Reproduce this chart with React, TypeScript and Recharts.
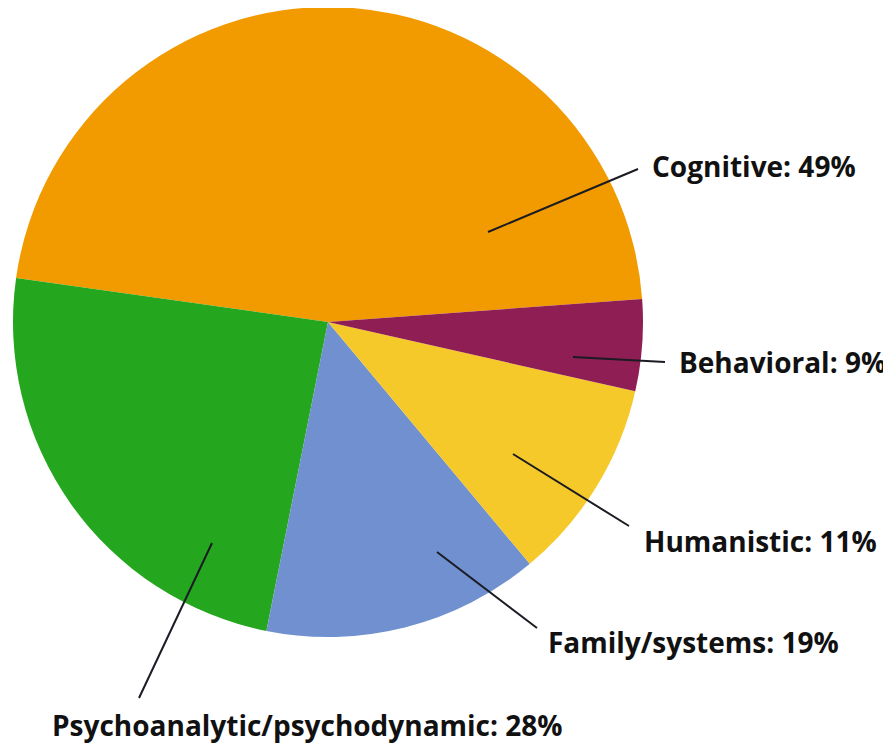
import React from 'react';
import { PieChart, Pie, Cell } from 'recharts';

// slice order follows the drawing: counter-clockwise from just above 3 o'clock
const categories = ['Cognitive', 'Psychoanalytic/psychodynamic', 'Family/systems', 'Humanistic', 'Behavioral'];
const shares = [46.6, 24.1, 14.2, 10.4, 4.7]; // slice sizes as drawn
const labelPercents = [49, 28, 19, 11, 9]; // percentages printed in the labels

const sliceColors = ['#F29B00', '#25A61F', '#7090CF', '#F6C92A', '#8E1E53'];

// leader line start/end and text anchor, as offsets from the pie centre
const labelLayout = [
  { line: [160, -90, 310, -153], text: [324, -145] },
  { line: [-116, 221, -189, 376], text: [-276, 414] },
  { line: [109, 230, 209, 306], text: [220, 331] },
  { line: [185, 132, 301, 204], text: [316, 230] },
  { line: [245, 35, 337, 40], text: [351, 51] },
];

const data = categories.map((name, i) => ({ name, value: shares[i], pct: labelPercents[i] }));

const renderLabel = (props: any) => {
  const { cx, cy, index } = props;
  const l = labelLayout[index];
  const [x1, y1, x2, y2] = l.line;
  return (
    <g>
      <line x1={cx + x1} y1={cy + y1} x2={cx + x2} y2={cy + y2} stroke="#1b1b24" strokeWidth={2} />
      <text
        x={cx + l.text[0]}
        y={cy + l.text[1]}
        fill="#111"
        fontFamily="'Open Sans', sans-serif"
        fontWeight={700}
        fontSize={28}
        textAnchor="start"
      >
        {`${data[index].name}: ${data[index].pct}%`}
      </text>
    </g>
  );
};

export default function App() {
  return (
    <div style={{ width: 883, height: 736, background: '#fff' }}>
      <PieChart width={883} height={736} margin={{ top: 0, right: 0, bottom: 0, left: 0 }}>
        <Pie
          data={data}
          dataKey="value"
          nameKey="name"
          cx={320}
          cy={314}
          outerRadius={315}
          startAngle={4.2}
          endAngle={364.2}
          stroke="none"
          label={renderLabel}
          labelLine={false}
          isAnimationActive={false}
        >
          {data.map((entry, index) => (
            <Cell key={`cell-${index}`} fill={sliceColors[index]} />
          ))}
        </Pie>
      </PieChart>
    </div>
  );
}
